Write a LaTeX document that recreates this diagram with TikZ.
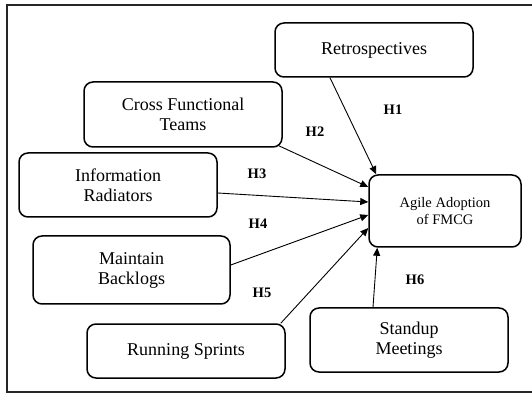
\documentclass[tikz,border=0pt]{standalone}
\usepackage{fontspec}
\setmainfont{Liberation Serif}
\usetikzlibrary{arrows.meta}
\begin{document}
\begin{tikzpicture}[x=1pt,y=1pt,
  factor/.style={draw=black, line width=1.5pt, rounded corners=9pt,
    minimum width=198pt, align=center, inner sep=0pt,
    font=\fontsize{18}{20}\selectfont},
  outcome/.style={draw=black, line width=1.5pt, rounded corners=9pt,
    minimum width=152pt, minimum height=72pt, align=center, inner sep=0pt,
    font=\fontsize{14.5}{17}\selectfont},
  link/.style={draw=black, line width=0.9pt, -{Triangle[length=8pt,width=7pt]}},
  hyp/.style={font=\fontsize{14.5}{17}\selectfont\bfseries}]
\useasboundingbox (0,0) rectangle (532,396);

% outer frame (open on the right)
\draw[line width=2pt, color=black!85] (532,391) -- (7,391) -- (7,4) -- (532,4);

% constructs
\node[factor, minimum height=54pt] (retro) at (374,346) {Retrospectives};
\node[factor, minimum height=65pt] (cross) at (183,281.5) {Cross Functional\\Teams};
\node[factor, minimum height=64pt] (info) at (118,211) {Information\\Radiators};
\node[factor, minimum width=197pt, minimum height=68pt] (maint) at (131.5,126) {Maintain\\Backlogs};
\node[factor, minimum height=54pt] (run) at (186,45) {Running Sprints};
\node[factor, minimum height=64pt] (stand) at (409,56) {Standup\\Meetings};
\node[outcome] (agile) at (445,185) {Agile Adoption\\of FMCG};

% hypothesised paths
\draw[link] ([xshift=-44pt]retro.south) -- ([xshift=8pt]agile.north west);
\draw[link] ([xshift=-4pt,yshift=2pt]cross.south east) -- ([yshift=24pt]agile.west);
\draw[link] ([yshift=-8pt]info.east) -- ([yshift=9pt]agile.west);
\draw[link] ([yshift=5pt]maint.east) -- ([yshift=-4pt]agile.west);
\draw[link] ([xshift=-5pt]run.north east) -- ([yshift=-17pt]agile.west);
\draw[link] ([xshift=-36pt]stand.north) -- ([xshift=9pt]agile.south west);

% hypothesis labels
\node[hyp] (h1) at (393,286) {H1};
\node[hyp] (h2) at (315,264) {H2};
\node[hyp] (h3) at (257,222) {H3};
\node[hyp] (h4) at (258,172) {H4};
\node[hyp] (h5) at (262,103) {H5};
\node[hyp] (h6) at (415,116) {H6};
\end{tikzpicture}
\end{document}
